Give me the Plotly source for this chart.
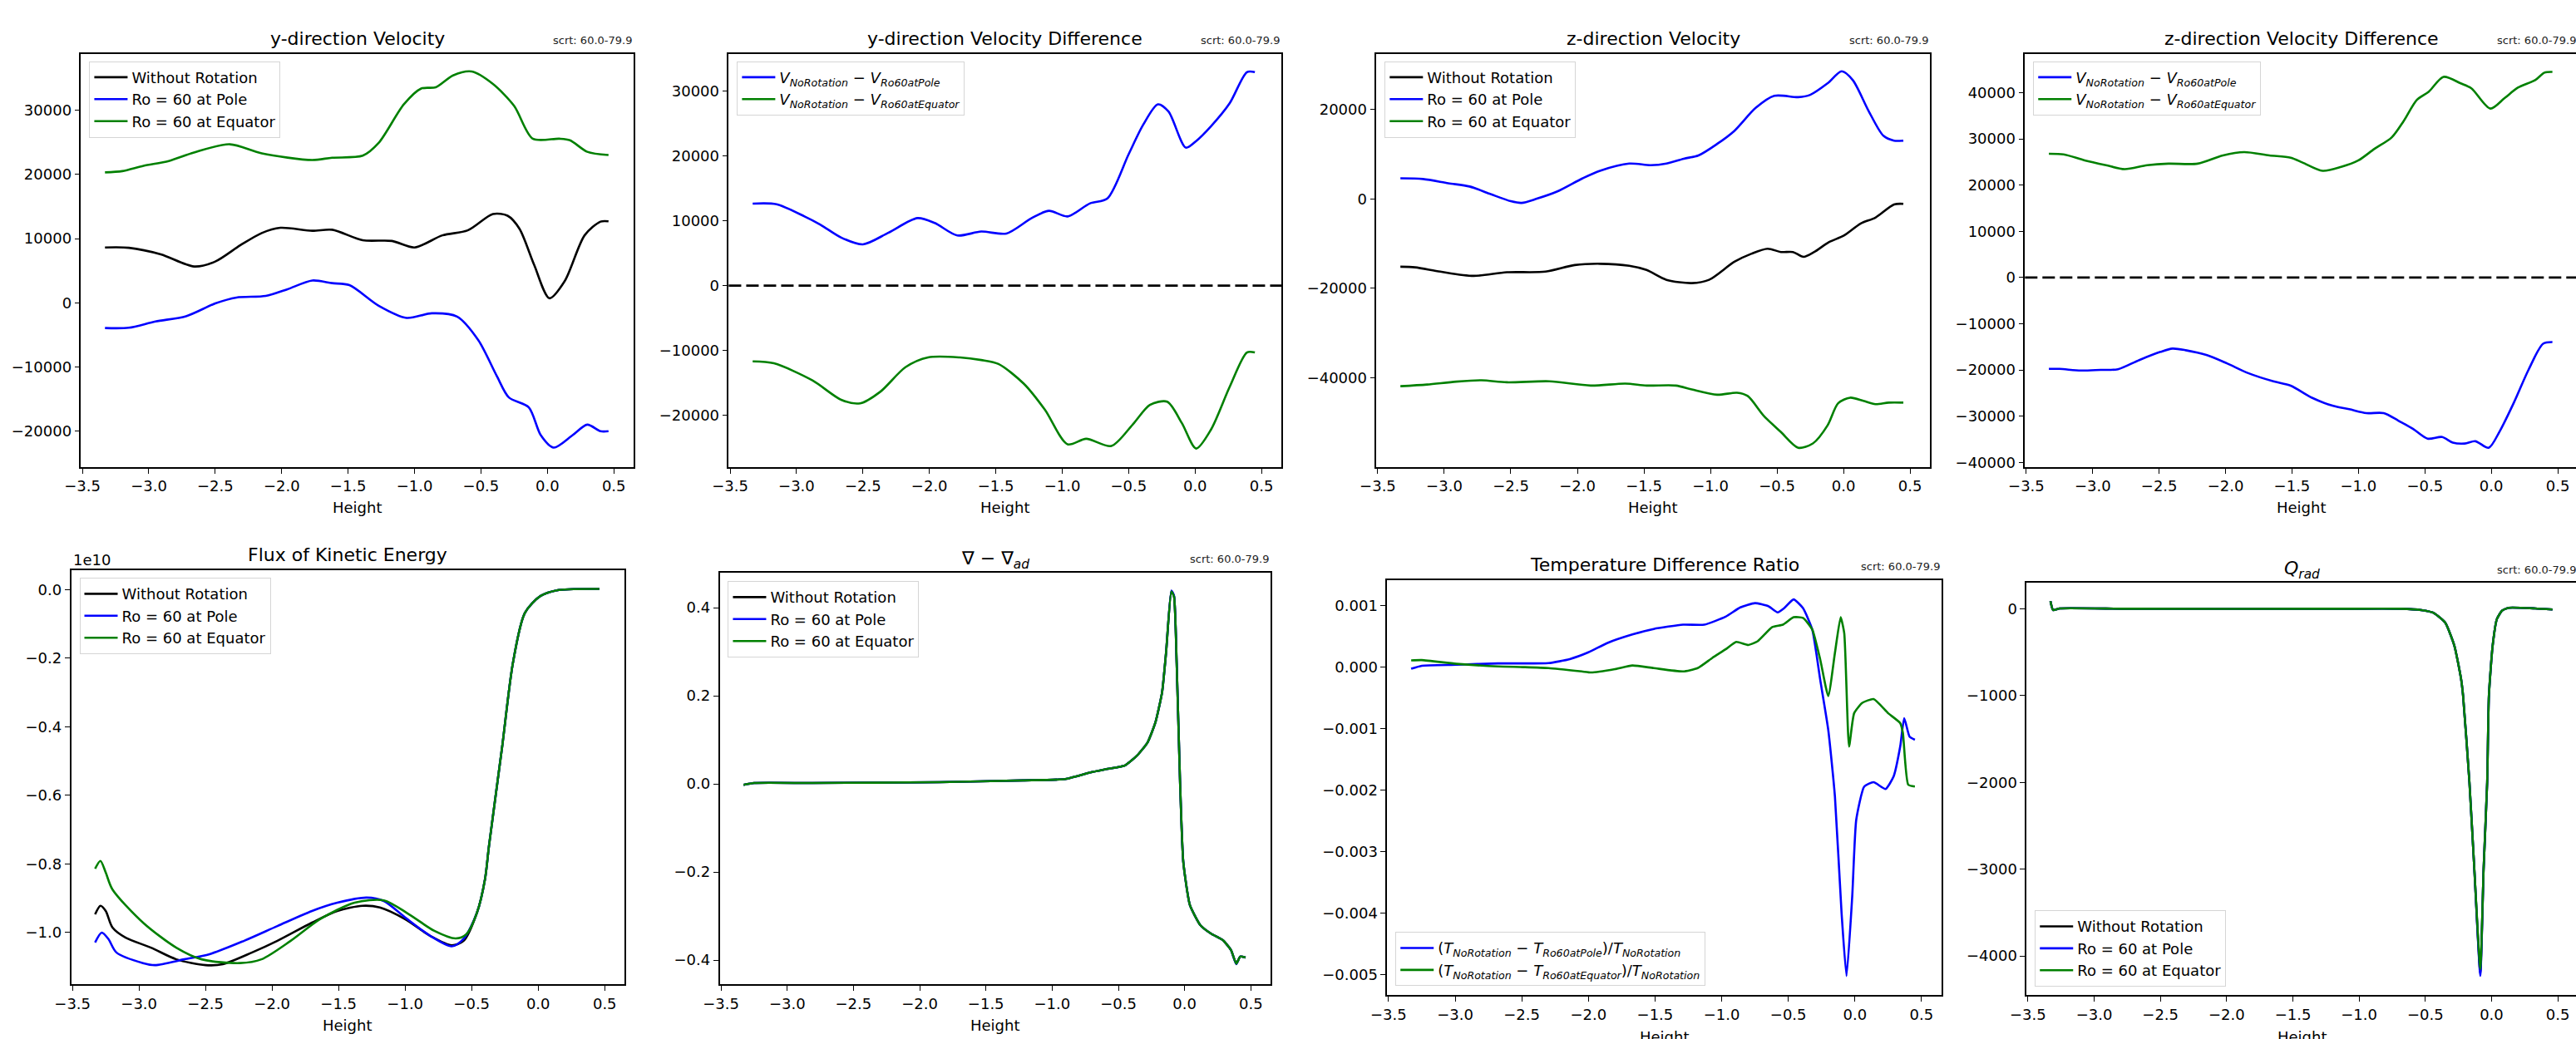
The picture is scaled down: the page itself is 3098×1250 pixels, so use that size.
import plotly.graph_objects as go

W, H = 3098, 1250

# ---------------- Panel 1: y-direction Velocity ----------------
vy_norot_x = [-3.33, -3.15, -2.91, -2.66, -2.50, -2.31, -2.15, -2.01, -1.77, -1.62, -1.39, -1.17, -1.00, -0.79, -0.60,
              -0.41, -0.30, -0.21, -0.10, 0.015, 0.13, 0.28, 0.40, 0.46]
vy_norot = [8620, 8570, 7550, 5660, 6430, 8980, 10870, 11680, 11220, 11380, 9740, 9640, 8620, 10510, 11280,
            13830, 13570, 11530, 5920, 710, 3370, 10510, 12650, 12700]
vy_pole_x = [-3.33, -3.15, -2.95, -2.72, -2.50, -2.34, -2.12, -1.96, -1.77, -1.62, -1.49, -1.27, -1.06, -0.87, -0.68,
             -0.52, -0.38, -0.29, -0.14, -0.05, 0.047, 0.19, 0.30, 0.40, 0.46]
vy_pole = [-3930, -3880, -2910, -2090, -100, 820, 1070, 2090, 3470, 3060, 2750, -460, -2350, -1630, -2140,
           -5820, -11430, -14740, -16280, -20610, -22550, -20610, -18980, -20000, -20000]
vy_eq_x = [-3.33, -3.20, -3.04, -2.85, -2.66, -2.39, -2.15, -1.77, -1.62, -1.39, -1.27, -1.08, -0.95, -0.84, -0.71,
           -0.57, -0.41, -0.25, -0.11, 0.09, 0.17, 0.30, 0.46]
vy_eq = [20310, 20510, 21330, 22090, 23420, 24690, 23270, 22240, 22600, 22910, 24900, 30920, 33370, 33570, 35410,
         36020, 34080, 30660, 25560, 25560, 25310, 23520, 23010]

# ---------------- Panel 2: y-direction Velocity Difference ----------------
dvy_pole_x = [-3.33, -3.15, -2.94, -2.82, -2.66, -2.50, -2.31, -2.09, -1.96, -1.79, -1.61, -1.42, -1.23, -1.10, -0.96,
              -0.79, -0.66, -0.50, -0.39, -0.28, -0.20, -0.07, 0.008, 0.12, 0.26, 0.39, 0.45]
dvy_pole = [12630, 12530, 10660, 9390, 7370, 6360, 8130, 10400, 9650, 7730, 8330, 8030, 10400, 11520, 10660,
            12680, 13430, 20250, 24800, 27930, 26820, 21260, 22270, 24550, 28080, 32880, 32880]
dvy_eq_x = [-3.33, -3.17, -2.88, -2.66, -2.52, -2.37, -2.18, -2.01, -1.77, -1.61, -1.48, -1.29, -1.13, -0.96, -0.82,
            -0.63, -0.47, -0.34, -0.21, -0.10, 0.008, 0.12, 0.26, 0.39, 0.45]
dvy_eq = [-11670, -11970, -14600, -17630, -18130, -16360, -12570, -11060, -11060, -11460, -12070, -15100, -19140,
          -24440, -23590, -24700, -21410, -18380, -17880, -21160, -25100, -22170, -15610, -10300, -10300]

# ---------------- Panel 3: z-direction Velocity ----------------
vz_pole_x = [-3.33, -3.16, -2.97, -2.81, -2.66, -2.50, -2.42, -2.31, -2.15, -1.96, -1.83, -1.61, -1.45, -1.33, -1.20,
             -1.09, -0.95, -0.82, -0.66, -0.52, -0.34, -0.25, -0.12, -0.013, 0.07, 0.19, 0.30, 0.38, 0.45]
vz_pole = [4610, 4460, 3510, 2780, 1170, -510, -880, 0, 1680, 4610, 6290, 7900, 7540, 7900, 9000,
           9730, 12290, 15220, 20340, 23050, 22760, 23270, 25830, 28540, 26560, 19610, 14120, 13030, 13030]
vz_norot_x = [-3.33, -3.22, -3.03, -2.78, -2.53, -2.24, -2.02, -1.83, -1.61, -1.48, -1.33, -1.14, -1.01, -0.82, -0.69,
              -0.57, -0.47, -0.38, -0.30, -0.22, -0.11, 0.003, 0.13, 0.24, 0.38, 0.45]
vz_norot = [-15150, -15290, -16250, -17200, -16390, -16250, -14780, -14490, -14930, -15880, -18080, -18810, -18080,
            -14050, -12220, -11120, -11860, -11860, -12950, -11860, -9660, -8200, -5490, -4170, -1240, -1100]
vz_eq_x = [-3.33, -3.13, -2.91, -2.72, -2.53, -2.21, -1.90, -1.64, -1.48, -1.26, -1.14, -0.95, -0.80, -0.72, -0.60,
           -0.47, -0.34, -0.23, -0.12, -0.04, 0.05, 0.15, 0.24, 0.34, 0.45]
vz_eq = [-41860, -41490, -40830, -40540, -40980, -40760, -41710, -41270, -41710, -41710, -42590, -43760, -43320,
         -44050, -48440, -52100, -55610, -54660, -50640, -45660, -44420, -45150, -45880, -45520, -45520]

# ---------------- Panel 4: z-direction Velocity Difference ----------------
dvz_pole_x = [-3.33, -3.25, -3.09, -2.94, -2.81, -2.65, -2.49, -2.40, -2.30, -2.14, -1.99, -1.83, -1.64, -1.51, -1.35,
              -1.19, -1.07, -0.94, -0.81, -0.70, -0.59, -0.48, -0.37, -0.29, -0.20, -0.12, -0.02, 0.06, 0.17, 0.28,
              0.39, 0.46]
dvz_pole = [-19770, -19770, -20130, -19990, -19840, -17860, -16090, -15380, -15730, -16800, -18570, -20690, -22470,
            -23390, -26010, -27780, -28490, -29340, -29340, -30970, -32740, -34870, -34510, -35720, -35930, -35430,
            -36850, -33450, -27070, -19980, -14320, -13960]
dvz_eq_x = [-3.33, -3.22, -3.06, -2.90, -2.76, -2.59, -2.43, -2.21, -2.02, -1.86, -1.67, -1.51, -1.42, -1.27, -1.13,
            -1.00, -0.88, -0.75, -0.66, -0.56, -0.47, -0.36, -0.23, -0.15, -0.007, 0.10, 0.20, 0.33, 0.40, 0.46]
dvz_eq = [26790, 26650, 25370, 24310, 23460, 24310, 24660, 24660, 26430, 27140, 26430, 25940, 24880, 23100, 23950,
          25370, 27850, 30330, 33870, 38480, 40250, 43440, 42030, 40960, 36570, 38840, 41100, 42730, 44360, 44510]

# ---------------- Panel 5: Flux of Kinetic Energy (units of 1e10) ----------------
fke_norot_x = [-3.33, -3.29, -3.25, -3.20, -3.10, -2.91, -2.72, -2.50, -2.37, -2.15, -1.96, -1.70, -1.51, -1.32,
               -1.19, -1.00, -0.81, -0.65, -0.56, -0.46, -0.40, -0.37, -0.27, -0.19, -0.10, 0.016, 0.14, 0.46]
fke_norot = [-0.947, -0.922, -0.937, -0.985, -1.015, -1.044, -1.078, -1.095, -1.092, -1.058, -1.024, -0.971, -0.937,
             -0.922, -0.927, -0.961, -1.010, -1.037, -1.024, -0.942, -0.845, -0.748, -0.456, -0.214, -0.068, -0.019,
             -0.002, 0.002]
fke_pole_x = [-3.33, -3.28, -3.23, -3.17, -2.97, -2.88, -2.66, -2.47, -2.21, -1.96, -1.70, -1.51, -1.29, -1.16,
              -1.00, -0.81, -0.65, -0.56, -0.46, -0.40, -0.37, -0.27, -0.19, -0.10, 0.016, 0.14, 0.46]
fke_pole = [-1.029, -1.000, -1.019, -1.058, -1.089, -1.095, -1.078, -1.063, -1.024, -0.981, -0.937, -0.913, -0.898,
            -0.908, -0.956, -1.010, -1.040, -1.018, -0.942, -0.845, -0.748, -0.456, -0.214, -0.068, -0.019, -0.002,
            0.002]
fke_eq_x = [-3.33, -3.29, -3.25, -3.20, -2.97, -2.72, -2.53, -2.24, -2.08, -1.86, -1.64, -1.38, -1.16, -0.97, -0.78,
            -0.62, -0.54, -0.46, -0.40, -0.37, -0.27, -0.19, -0.10, 0.016, 0.14, 0.46]
fke_eq = [-0.814, -0.791, -0.825, -0.874, -0.971, -1.044, -1.078, -1.089, -1.078, -1.024, -0.961, -0.913, -0.906,
          -0.947, -0.995, -1.017, -1.005, -0.942, -0.845, -0.748, -0.456, -0.214, -0.068, -0.019, -0.002, 0.002]

# ---------------- Panel 6: nabla - nabla_ad ----------------
nab_x = [-3.33, -3.25, -2.81, -1.85, -1.22, -0.90, -0.71, -0.58, -0.45, -0.36, -0.28, -0.22, -0.17, -0.14, -0.10,
         -0.08, -0.06, -0.035, -0.01, 0.04, 0.12, 0.20, 0.29, 0.35, 0.39, 0.42, 0.46]
nab_norot = [-0.002, 0.002, 0.002, 0.004, 0.008, 0.011, 0.026, 0.034, 0.042, 0.064, 0.094, 0.140, 0.208, 0.298,
             0.438, 0.426, 0.275, 0.011, -0.177, -0.275, -0.321, -0.340, -0.355, -0.377, -0.408, -0.392, -0.394]
nab_pole = [-0.002, 0.002, 0.002, 0.004, 0.008, 0.011, 0.026, 0.034, 0.042, 0.064, 0.094, 0.140, 0.208, 0.298,
            0.439, 0.427, 0.275, 0.011, -0.177, -0.275, -0.321, -0.340, -0.355, -0.377, -0.409, -0.392, -0.394]
nab_eq = [-0.002, 0.002, 0.002, 0.004, 0.008, 0.011, 0.026, 0.034, 0.042, 0.064, 0.094, 0.140, 0.208, 0.298,
          0.437, 0.425, 0.275, 0.011, -0.177, -0.275, -0.321, -0.340, -0.355, -0.377, -0.408, -0.392, -0.394]

# ---------------- Panel 7: Temperature Difference Ratio ----------------
tdr_pole_x = [-3.33, -3.25, -2.99, -2.68, -2.30, -2.14, -2.00, -1.86, -1.67, -1.51, -1.29, -1.13, -0.97, -0.86, -0.75,
              -0.65, -0.58, -0.53, -0.46, -0.39, -0.32, -0.26, -0.20, -0.15, -0.10, -0.063, -0.02, 0.01, 0.07, 0.14,
              0.23, 0.29, 0.34, 0.37, 0.41, 0.45]
tdr_pole = [-0.027e-3, 0.022e-3, 0.038e-3, 0.06e-3, 0.065e-3, 0.13e-3, 0.24e-3, 0.39e-3, 0.53e-3, 0.62e-3, 0.69e-3,
            0.69e-3, 0.82e-3, 0.97e-3, 1.04e-3, 0.99e-3, 0.89e-3, 0.96e-3, 1.10e-3, 0.96e-3, 0.61e-3, -0.21e-3,
            -1.02e-3, -2.1e-3, -4.0e-3, -5.02e-3, -3.72e-3, -2.48e-3, -1.94e-3, -1.87e-3, -1.98e-3, -1.78e-3,
            -1.29e-3, -0.83e-3, -1.13e-3, -1.18e-3]
tdr_eq_x = [-3.33, -3.25, -2.99, -2.68, -2.49, -2.30, -2.05, -1.98, -1.80, -1.67, -1.51, -1.29, -1.18, -1.07, -0.97,
            -0.89, -0.80, -0.73, -0.62, -0.54, -0.46, -0.39, -0.32, -0.26, -0.20, -0.15, -0.107, -0.08, -0.044,
            -0.006, 0.056, 0.14, 0.25, 0.34, 0.36, 0.40, 0.45]
tdr_eq = [0.11e-3, 0.114e-3, 0.054e-3, 0.011e-3, 0.0, -0.016e-3, -0.07e-3, -0.087e-3, -0.032e-3, 0.027e-3, -0.016e-3,
          -0.07e-3, -0.016e-3, 0.15e-3, 0.29e-3, 0.41e-3, 0.36e-3, 0.42e-3, 0.65e-3, 0.69e-3, 0.81e-3, 0.80e-3,
          0.61e-3, 0.12e-3, -0.47e-3, 0.23e-3, 0.81e-3, 0.55e-3, -1.29e-3, -0.75e-3, -0.58e-3, -0.52e-3, -0.75e-3,
          -0.91e-3, -1.07e-3, -1.91e-3, -1.94e-3]

# ---------------- Panel 8: Q_rad ----------------
qrad_x = [-3.33, -3.31, -3.26, -2.75, -1.17, -0.69, -0.53, -0.44, -0.35, -0.28, -0.23, -0.215, -0.167, -0.13, -0.085,
          -0.06, -0.033, -0.02, 0.008, 0.04, 0.08, 0.13, 0.33, 0.46]
qrad_norot = [88, -15, 4, 0, 0, 0, -15, -46, -160, -430, -810, -1000, -2000, -3000, -4200, -3000, -2000, -1000,
              -429, -120, -20, 11, 4, -8]
qrad_pole = [88, -15, 4, 0, 0, 0, -15, -46, -160, -430, -810, -1000, -2000, -3000, -4230, -3000, -2000, -1000,
             -429, -120, -20, 11, 4, -8]
qrad_eq = [88, -15, 4, 0, 0, 0, -15, -46, -160, -430, -810, -1000, -2000, -3000, -4150, -3000, -2000, -1000,
           -429, -120, -20, 11, 4, -8]

# ---------------- labels ----------------
titles = ["y-direction Velocity", "y-direction Velocity Difference", "z-direction Velocity",
          "z-direction Velocity Difference", "Flux of Kinetic Energy", "∇ − ∇<sub><i>ad</i></sub>",
          "Temperature Difference Ratio", "<i>Q</i><sub><i>rad</i></sub>"]
lab_norot = "Without Rotation"
lab_pole = "Ro = 60 at Pole"
lab_eq = "Ro = 60 at Equator"
lab_dv_pole = "<i>V</i><sub><i>NoRotation</i></sub> − <i>V</i><sub><i>Ro60atPole</i></sub>"
lab_dv_eq = "<i>V</i><sub><i>NoRotation</i></sub> − <i>V</i><sub><i>Ro60atEquator</i></sub>"
lab_t_pole = ("(<i>T</i><sub><i>NoRotation</i></sub> − <i>T</i><sub><i>Ro60atPole</i></sub>)/"
              "<i>T</i><sub><i>NoRotation</i></sub>")
lab_t_eq = ("(<i>T</i><sub><i>NoRotation</i></sub> − <i>T</i><sub><i>Ro60atEquator</i></sub>)/"
            "<i>T</i><sub><i>NoRotation</i></sub>")
scrt_label = "scrt: 60.0-79.9"
xlabel = "Height"

BLACK, BLUE, GREEN = "#000000", "#0000ff", "#008000"
FONT = "DejaVu Sans"

# ---------------- layout geometry (pixels) ----------------
# (left, right, top, bottom)
boxes = [
    (78, 747, 65, 564), (862, 1531, 65, 564), (1646, 2316, 65, 564), (2431, 3100, 65, 564),
    (66, 736, 689, 1189), (851, 1518, 692, 1189), (1659, 2330, 701, 1202), (2433, 3100, 704, 1202),
]
XL, XR = -3.51, 0.65
ymeta = [  # range, tick0, dtick, format
    ([-25560, 38780], -20000, 10000, "d"),
    ([-27930, 35710], -20000, 10000, "d"),
    ([-59900, 32440], -40000, 20000, "d"),
    ([-40990, 48430], -40000, 10000, "d"),
    ([-1.151, 0.056], -1.0, 0.2, ".1f"),
    ([-0.455, 0.479], -0.4, 0.2, ".1f"),
    ([-0.00533, 0.00141], -0.005, 0.001, ".3f"),
    ([-4452, 299], -4000, 1000, "d"),
]


def fx(p):
    return p / W


def fy(p):
    return 1 - p / H


fig = go.Figure()


def add(i, x, y, color, name, legend, smooth=0.8):
    sfx = "" if i == 1 else str(i)
    fig.add_trace(go.Scatter(x=x, y=y, mode="lines", name=name,
                             line=dict(color=color, width=2.6, shape="spline", smoothing=smooth),
                             xaxis="x" + sfx, yaxis="y" + sfx, legend=legend))


add(1, vy_norot_x, vy_norot, BLACK, lab_norot, "legend")
add(1, vy_pole_x, vy_pole, BLUE, lab_pole, "legend")
add(1, vy_eq_x, vy_eq, GREEN, lab_eq, "legend")
add(2, dvy_pole_x, dvy_pole, BLUE, lab_dv_pole, "legend2")
add(2, dvy_eq_x, dvy_eq, GREEN, lab_dv_eq, "legend2")
add(3, vz_norot_x, vz_norot, BLACK, lab_norot, "legend3")
add(3, vz_pole_x, vz_pole, BLUE, lab_pole, "legend3")
add(3, vz_eq_x, vz_eq, GREEN, lab_eq, "legend3")
add(4, dvz_pole_x, dvz_pole, BLUE, lab_dv_pole, "legend4")
add(4, dvz_eq_x, dvz_eq, GREEN, lab_dv_eq, "legend4")
add(5, fke_norot_x, fke_norot, BLACK, lab_norot, "legend5")
add(5, fke_pole_x, fke_pole, BLUE, lab_pole, "legend5")
add(5, fke_eq_x, fke_eq, GREEN, lab_eq, "legend5")
add(6, nab_x, nab_norot, BLACK, lab_norot, "legend6", 0.5)
add(6, nab_x, nab_pole, BLUE, lab_pole, "legend6", 0.5)
add(6, nab_x, nab_eq, GREEN, lab_eq, "legend6", 0.5)
add(7, tdr_pole_x, tdr_pole, BLUE, lab_t_pole, "legend7", 0.5)
add(7, tdr_eq_x, tdr_eq, GREEN, lab_t_eq, "legend7", 0.5)
add(8, qrad_x, qrad_norot, BLACK, lab_norot, "legend8", 0.5)
add(8, qrad_x, qrad_pole, BLUE, lab_pole, "legend8", 0.5)
add(8, qrad_x, qrad_eq, GREEN, lab_eq, "legend8", 0.5)

layout = dict(width=W, height=H, margin=dict(l=0, r=0, t=0, b=0), autosize=False,
              paper_bgcolor="white", plot_bgcolor="white",
              font=dict(family=FONT, size=18, color="black"))

tickfont = dict(family=FONT, size=18, color="black")
for i, (l, r, t, b) in enumerate(boxes, start=1):
    sfx = "" if i == 1 else str(i)
    rr = min(r, W)
    xr = XR - (r - rr) * (XR - XL) / (r - l)
    yr, t0, dt, fmt = ymeta[i - 1]
    clipped = r > W
    layout["xaxis" + sfx] = dict(domain=[fx(l), fx(rr)], range=[XL, xr], anchor="y" + sfx,
                                 tickmode="linear", tick0=-3.5, dtick=0.5, tickformat=".1f",
                                 ticks="outside", ticklen=6, tickwidth=1.4, tickcolor="black",
                                 showline=True, linecolor="black", linewidth=1.6, mirror=True,
                                 showgrid=False, zeroline=False, tickfont=tickfont)
    layout["yaxis" + sfx] = dict(domain=[fy(b), fy(t)], range=yr, anchor="x" + sfx,
                                 tickmode="linear", tick0=t0, dtick=dt, tickformat=fmt,
                                 ticks="outside", ticklen=6, tickwidth=1.4, tickcolor="black",
                                 showline=True, linecolor="black", linewidth=1.6,
                                 mirror=(not clipped), showgrid=False, zeroline=False, tickfont=tickfont)

# legends: (left px, top px, anchor)
leg_pos = [(88, 74, "top"), (872, 74, "top"), (1656, 74, "top"), (2441, 74, "top"),
           (76, 698, "top"), (861, 702, "top"), (1669, 1191, "bottom"), (2443, 1192, "bottom")]
for i, (lx, ly, anc) in enumerate(leg_pos, start=1):
    key = "legend" if i == 1 else "legend" + str(i)
    layout[key] = dict(x=fx(lx), y=fy(ly), xanchor="left", yanchor=anc, xref="paper", yref="paper",
                       bgcolor="rgba(255,255,255,0.8)", bordercolor="#d5d5d5", borderwidth=1,
                       font=dict(family=FONT, size=18, color="black"), itemwidth=40,
                       tracegroupgap=0, traceorder="normal")

annotations = []
title_y = [47, 47, 47, 47, 670, 676, 682, 688]
scrt_y = [49, 49, 49, 49, None, 675, 684, 688]
height_y = [600, 600, 600, 600, 1226, 1226, 1240, 1240]
for i, (l, r, t, b) in enumerate(boxes):
    cx = (l + r) / 2
    annotations.append(dict(text=titles[i], x=fx(cx), y=fy(title_y[i]), xref="paper", yref="paper",
                            xanchor="center", yanchor="middle", showarrow=False,
                            font=dict(family=FONT, size=22, color="black")))
    if scrt_y[i] is not None:
        annotations.append(dict(text=scrt_label, x=fx(r), y=fy(scrt_y[i]), xref="paper", yref="paper",
                                xanchor="right", yanchor="middle", showarrow=False,
                                font=dict(family=FONT, size=13, color="#222222")))
    annotations.append(dict(text=xlabel, x=fx(cx), y=fy(height_y[i]), xref="paper", yref="paper",
                            xanchor="center", yanchor="top", showarrow=False,
                            font=dict(family=FONT, size=18, color="black")))
annotations.append(dict(text="1e10", x=fx(66), y=fy(676), xref="paper", yref="paper",
                        xanchor="left", yanchor="middle", showarrow=False,
                        font=dict(family=FONT, size=18, color="black")))
layout["annotations"] = annotations

layout["shapes"] = [
    dict(type="line", xref="x2 domain", yref="y2", x0=0, x1=1, y0=0, y1=0,
         line=dict(color="black", width=2.6, dash="15px,6px")),
    dict(type="line", xref="x4 domain", yref="y4", x0=0, x1=1, y0=0, y1=0,
         line=dict(color="black", width=2.6, dash="15px,6px")),
]

fig.update_layout(**layout)
fig.write_html("out.html", config={"displayModeBar": False},
               post_script="document.body.style.margin='0';document.body.style.overflow='hidden';")
